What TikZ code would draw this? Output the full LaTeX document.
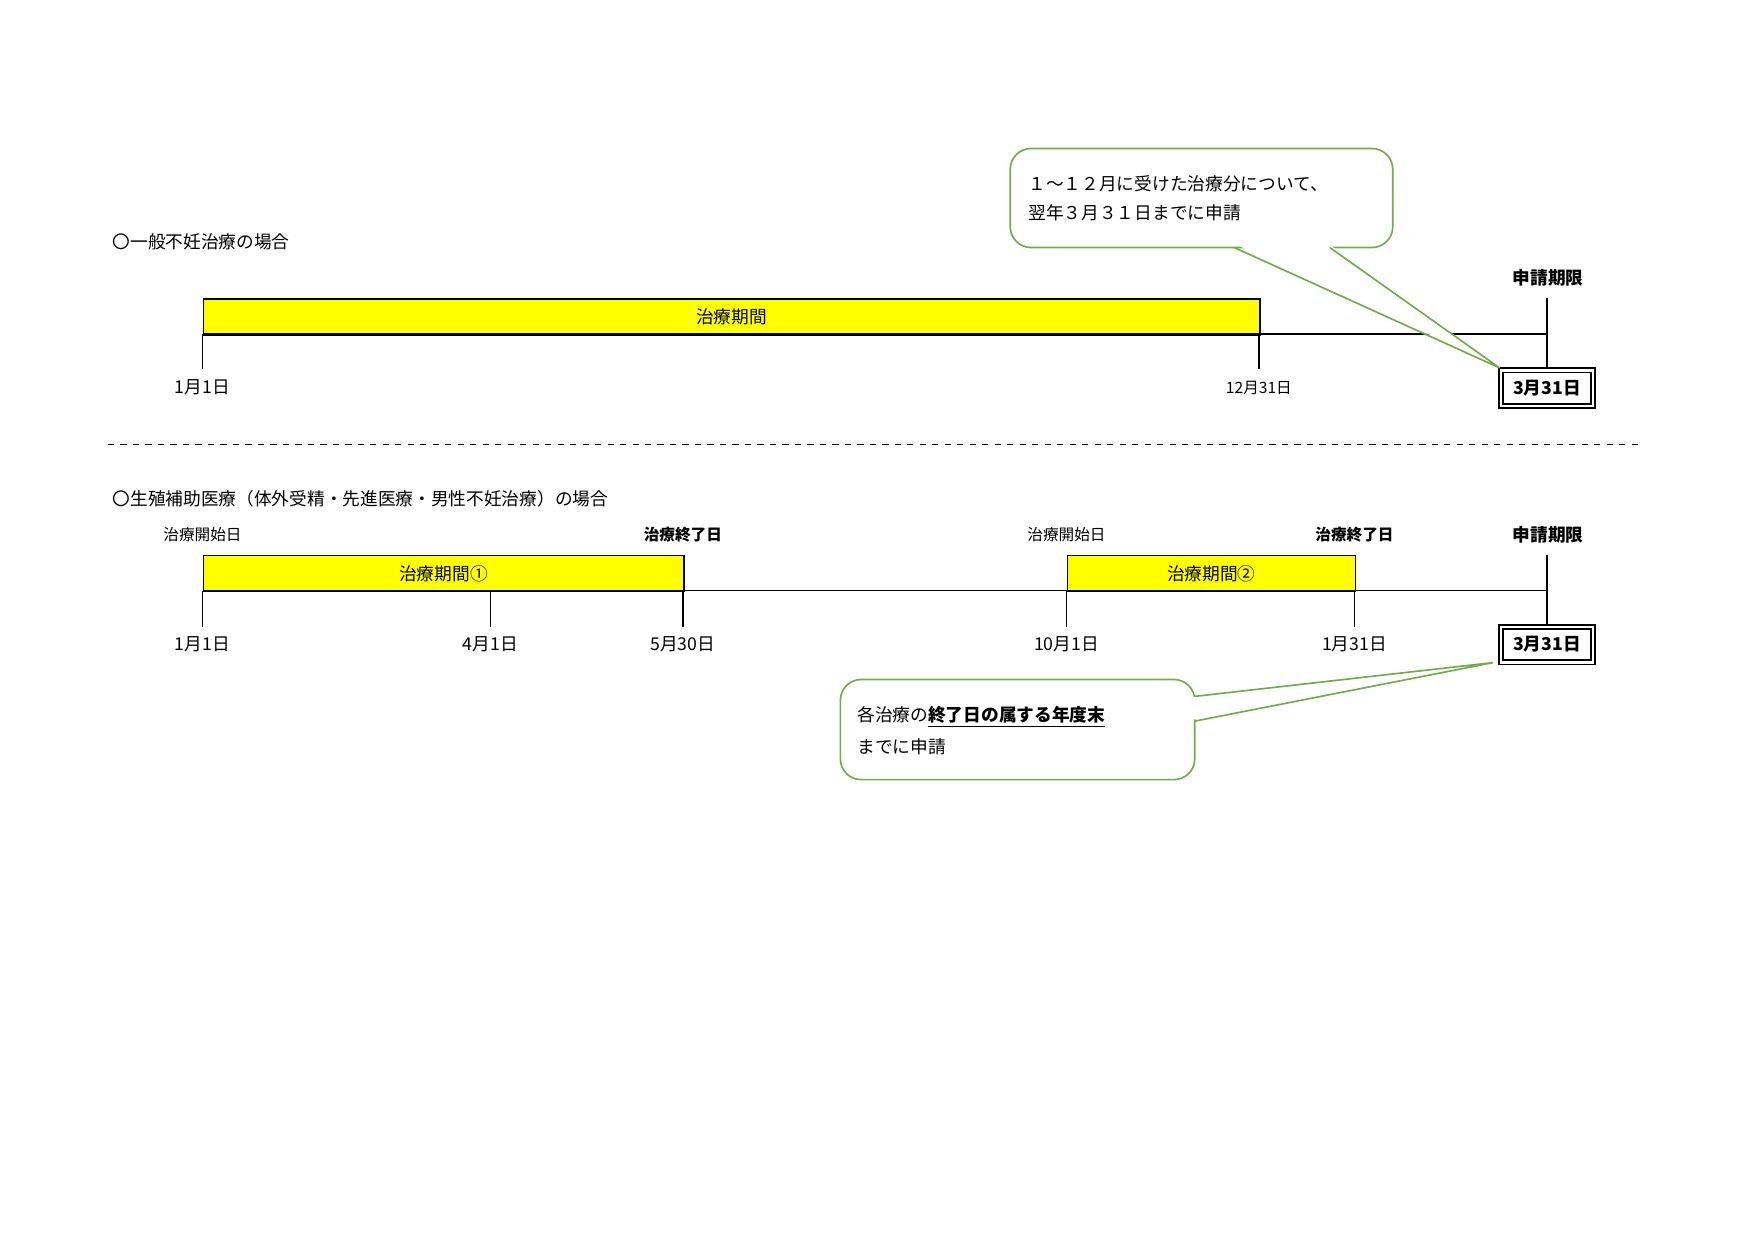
\documentclass[tikz,border=0pt]{standalone}
\usepackage{fontspec}
\setmainfont{Noto Sans CJK JP}
\usetikzlibrary{positioning, calc}
\definecolor{callgreen}{RGB}{112,173,71}
\definecolor{baryellow}{RGB}{255,255,0}
\tikzset{
    lbl/.style={font=\fontsize{8.5}{10}\selectfont, inner sep=1pt},
    bar/.style={draw, fill=baryellow, thick},
    tick/.style={thick},
    datebox/.style={draw, double, double distance=1.2pt, thick, minimum width=1.55cm, minimum height=0.6cm, font=\fontsize{8.5}{10}\selectfont\bfseries},
    callout/.style={draw=callgreen, thick, rounded corners=0.35cm, fill=white}
}
\begin{document}
\begin{tikzpicture}[x=0.019cm, y=-0.019cm]
    \useasboundingbox (0,0) rectangle (1560,1103);
    % Section 1
    \node[lbl, anchor=west] (T1) at (98,215) {〇一般不妊治療の場合};
    \node[bar, minimum width=939*0.019cm, minimum height=32*0.019cm, anchor=north west, inner sep=0] (Bar1) at (180,265) {};
    \node[lbl] (Bar1L) at (Bar1.center) {治療期間};
    \coordinate (L1s) at (180,297);
    \coordinate (L1e) at (1375,297);
    \draw[tick] (L1s) -- (L1e);
    \draw[tick] (180,297) -- (180,328);
    \draw[tick] (1119,297) -- (1119,328);
    \draw[tick] (1375,265) -- (1375,328);
    \node[lbl] (D1a) at (180,344) {1月1日};
    \node[lbl, font=\fontsize{7.5}{9}\selectfont] (D1b) at (1119,345) {12月31日};
    \node[lbl, font=\fontsize{8.5}{10}\selectfont\bfseries] (Lim1) at (1376,247) {申請期限};
    \node[datebox] (End1) at (1375,345) {3月31日};
    % Callout 1
    \draw[callout] (898,132) rectangle (1238,220);
    \coordinate (P1a) at (1097,220);
    \coordinate (P1b) at (1182,220);
    \coordinate (P1t) at (1333,327);
    \fill[white] ($(P1a)+(1,-3)$) -- (P1t) -- ($(P1b)+(-1,-3)$) -- cycle;
    \draw[callgreen, thick] (P1a) -- (P1t) -- (P1b);
    \node[lbl, anchor=west, align=left] (C1) at (912,172) {\rule{0pt}{12pt}１～１２月に受けた治療分について、\\[4pt]翌年３月３１日までに申請};
    % Separator
    \draw[thick, dashed] (96,395) -- (1460,395);
    % Section 2
    \node[lbl, anchor=west] (T2) at (98,443) {〇生殖補助医療（体外受精・先進医療・男性不妊治療）の場合};
    \node[bar, minimum width=427*0.019cm, minimum height=32*0.019cm, anchor=north west, inner sep=0] (Bar2a) at (180,493) {};
    \node[bar, minimum width=256*0.019cm, minimum height=32*0.019cm, anchor=north west, inner sep=0] (Bar2b) at (948,493) {};
    \node[lbl] at (Bar2a.center) {治療期間①};
    \node[lbl] at (Bar2b.center) {治療期間②};
    \coordinate (L2s) at (180,525);
    \coordinate (L2e) at (1375,525);
    \draw[tick] (L2s) -- (L2e);
    \foreach \xx in {180,436,607,948,1204}
        \draw[tick] (\xx,525) -- (\xx,557);
    \draw[tick] (1375,493) -- (1375,557);
    \node[lbl] (D2a) at (180,573) {1月1日};
    \node[lbl] (D2b) at (436,573) {4月1日};
    \node[lbl] (D2c) at (607,573) {5月30日};
    \node[lbl] (D2d) at (948,573) {10月1日};
    \node[lbl] (D2e) at (1204,573) {1月31日};
    \node[lbl, font=\fontsize{7.5}{9}\selectfont] (S2a) at (180,475) {治療開始日};
    \node[lbl, font=\fontsize{7.5}{9}\selectfont\bfseries] (E2a) at (607,475) {治療終了日};
    \node[lbl, font=\fontsize{7.5}{9}\selectfont] (S2b) at (948,475) {治療開始日};
    \node[lbl, font=\fontsize{7.5}{9}\selectfont\bfseries] (E2b) at (1204,475) {治療終了日};
    \node[lbl, font=\fontsize{8.5}{10}\selectfont\bfseries] (Lim2) at (1376,475) {申請期限};
    \node[datebox] (End2) at (1375,573) {3月31日};
    % Callout 2
    \draw[callout] (747,604) rectangle (1062,693);
    \coordinate (P2a) at (1062,619);
    \coordinate (P2b) at (1062,641);
    \coordinate (P2t) at (1327,589);
    \fill[white] ($(P2a)+(-3,1)$) -- (P2t) -- ($(P2b)+(-3,-1)$) -- cycle;
    \draw[callgreen, thick] (P2a) -- (P2t) -- (P2b);
    \node[lbl, anchor=west, align=left] (C2) at (760,645) {\rule{0pt}{12pt}各治療の\underline{\textbf{終了日の属する年度末}}\\[4pt]までに申請};
\end{tikzpicture}
\end{document}
